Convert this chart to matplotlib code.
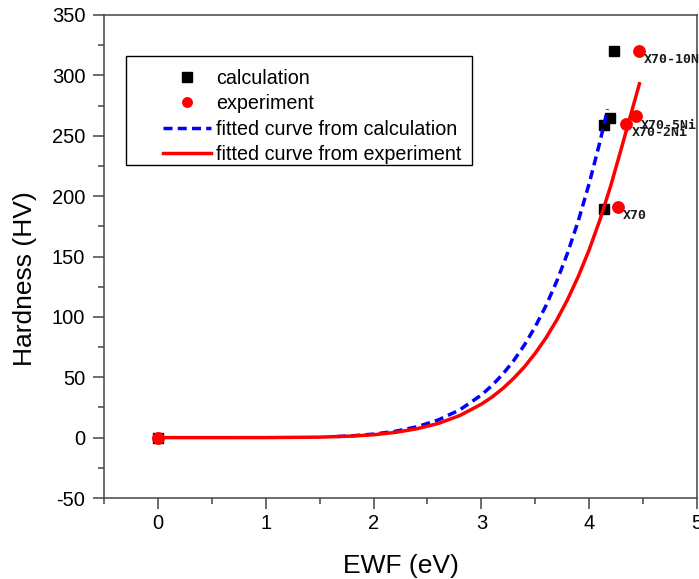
import matplotlib
matplotlib.use("Agg")
import matplotlib.pyplot as plt
from matplotlib.patches import Rectangle
from matplotlib.lines import Line2D
from matplotlib.ticker import MultipleLocator

plt.rcParams.update({
    "font.family": ["Liberation Sans", "DejaVu Sans"],
    "axes.linewidth": 1.1,
    "axes.unicode_minus": False,
})

# calculated and measured hardness vs electron work function
calc_ewf = [0.0, 4.135, 4.135, 4.19, 4.23]
calc_hv = [0.0, 189, 259, 265, 320]
exp_ewf = [0.0, 4.27, 4.345, 4.43, 4.46]
exp_hv = [0.0, 191, 260, 266, 320]
exp_names = ["", "X70", "X70-2Ni", "X70-5Ni", "X70-10Ni"]

# fitted curves, sampled along their drawn paths
fit_calc_x = [1.66, 1.8, 2.0, 2.2, 2.4, 2.6, 2.8, 3.0, 3.1, 3.2, 3.3, 3.4,
              3.5, 3.6, 3.7, 3.8, 3.9, 4.0, 4.1, 4.17]
fit_calc_y = [0.9, 1.5, 2.9, 5.2, 8.9, 14.6, 23.0, 35.3, 43.3, 52.7, 63.8, 76.8,
              91.9, 109.4, 129.7, 153, 179.8, 210.4, 245, 272]
fit_exp_x = [0.0, 0.5, 1.0, 1.5, 1.8, 2.0, 2.2, 2.4, 2.6, 2.8, 3.0, 3.1, 3.2,
             3.3, 3.4, 3.5, 3.6, 3.7, 3.8, 3.9, 4.0, 4.1, 4.2, 4.3, 4.4, 4.466]
fit_exp_y = [0.0, 0.0, 0.04, 0.4, 1.3, 2.4, 4.3, 7.3, 11.7, 18.3, 27.7, 33.7, 40.8,
             49.1, 58.7, 69.9, 82.7, 97.5, 114.4, 133.7, 155.6, 180.5, 208.6, 240, 272, 293]

fig = plt.figure(figsize=(6.99, 5.79), dpi=100)
ax = fig.add_axes([104 / 699, 1 - 498 / 579, 593 / 699, 483 / 579])

ax.plot(calc_ewf, calc_hv, "s", color="black", markersize=7.6, zorder=3)
ax.plot(exp_ewf, exp_hv, "o", color="red", markersize=8.2, zorder=3)
ax.plot(fit_calc_x, fit_calc_y, color="#0000ff", linewidth=2.5,
        linestyle=(0, (2.6, 1.5)), zorder=4)
ax.plot(fit_exp_x, fit_exp_y, color="red", linewidth=2.5, zorder=4)

for x, y, name in zip(exp_ewf, exp_hv, exp_names):
    if name:
        ax.annotate(name, (x, y), xytext=(3.6, -6.2), textcoords="offset points",
                    ha="left", va="center", fontsize=9.5, fontweight="bold",
                    family="DejaVu Sans Mono", color="#1a1a1a",
                    annotation_clip=False, zorder=5)

ax.set_xlim(-0.5, 5)
ax.set_ylim(-50, 350)
ax.xaxis.set_major_locator(MultipleLocator(1))
ax.xaxis.set_minor_locator(MultipleLocator(0.5))
ax.yaxis.set_major_locator(MultipleLocator(50))
ax.yaxis.set_minor_locator(MultipleLocator(25))
ax.tick_params(which="both", direction="out", top=False, right=False,
               color="#444444", width=1.1, labelsize=14.5)
ax.tick_params(which="major", length=8)
ax.tick_params(which="minor", length=4.3)
ax.tick_params(axis="y", pad=5.5)
for s in ax.spines.values():
    s.set_color("#444444")

ax.set_xlabel("EWF (eV)", fontsize=19)
ax.set_ylabel("Hardness (HV)", fontsize=19)
ax.xaxis.set_label_coords(0.5, -0.115)
ax.yaxis.set_label_coords(-0.113, 0.455)

# legend: plain box drawn separately, entries placed inside it
ax.add_patch(Rectangle((0.0371, 0.6894), 0.5835, 0.2257, transform=ax.transAxes,
                       fill=False, edgecolor="black", linewidth=1.0, zorder=6))
handles = [
    Line2D([], [], marker="s", linestyle="none", color="black", markersize=6.5),
    Line2D([], [], marker="o", linestyle="none", color="red", markersize=6.8),
    Line2D([], [], color="#0000ff", linewidth=2.5, linestyle=(0, (2.6, 1.5))),
    Line2D([], [], color="red", linewidth=2.5),
]
labels = ["calculation", "experiment", "fitted curve from calculation",
          "fitted curve from experiment"]
ax.legend(handles, labels, loc="upper left", bbox_to_anchor=(0.0995, 0.889),
          frameon=False, fontsize=14.2, borderpad=0, borderaxespad=0,
          handlelength=2.42, handletextpad=0.26, labelspacing=0.33)

fig.savefig("out.png", dpi=100, facecolor="white")
